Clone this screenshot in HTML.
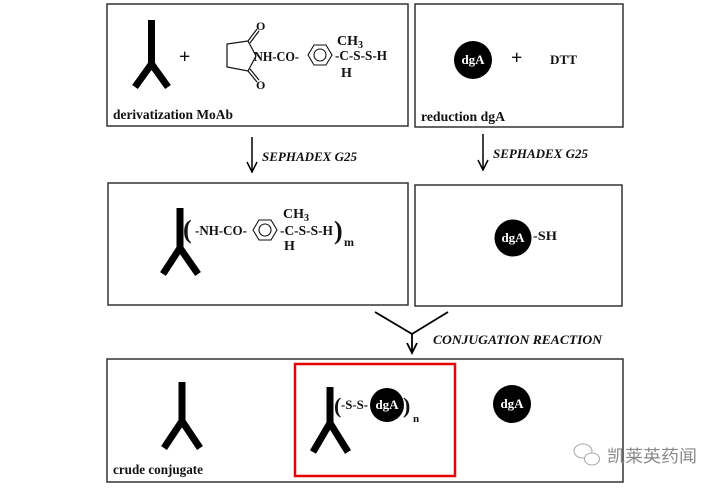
<!DOCTYPE html>
<html>
<head>
<meta charset="utf-8">
<style>
html,body{margin:0;padding:0;background:#fff;}
svg{display:block;}
text{font-family:"Liberation Serif",serif;font-weight:bold;fill:#111;}
.it{font-style:italic;}
.w{fill:#fff;}
.cn{font-family:"Liberation Sans","Noto Sans CJK SC",sans-serif;font-weight:normal;fill:#8a8a8a;}
</style>
</head>
<body>
<svg width="721" height="488" viewBox="0 0 721 488" xmlns="http://www.w3.org/2000/svg">
<g fill="none" stroke="#333" stroke-width="1.5">
  <rect x="107" y="4" width="301" height="122"/>
  <rect x="415" y="4" width="208" height="123"/>
  <rect x="108" y="183" width="300" height="122"/>
  <rect x="415" y="185" width="207" height="121"/>
  <rect x="107" y="359" width="516" height="123"/>
</g>
<rect x="295" y="364" width="160" height="112" fill="none" stroke="#e60000" stroke-width="2.5"/>

<!-- Row 1 left -->
<g stroke="#000" stroke-width="7" fill="none" stroke-linejoin="miter">
  <line x1="151.5" y1="20" x2="151.5" y2="64"/>
  <polyline points="135,87 151.5,64 168,87"/>
</g>
<text x="179" y="63" font-size="20">+</text>
<g stroke="#111" stroke-width="1.2" fill="none">
  <polyline points="248,41 227,44 227,67 248,71 256,56 248,41"/>
  <line x1="248" y1="41" x2="257" y2="29"/>
  <line x1="250" y1="43" x2="259" y2="31"/>
  <line x1="248" y1="71" x2="257" y2="82"/>
  <line x1="250" y1="69" x2="259" y2="80"/>
</g>
<text x="256" y="30" font-size="12">O</text>
<text x="256" y="89" font-size="12">O</text>
<text x="254" y="61" font-size="14" textLength="45" lengthAdjust="spacingAndGlyphs">NH-CO-</text>
<g stroke="#111" stroke-width="1.1" fill="none">
  <polygon points="308,55 314,45 326,45 332,55 326,65 314,65"/>
  <circle cx="320" cy="55" r="6"/>
</g>
<text x="337" y="45" font-size="14">CH<tspan font-size="10" dy="3">3</tspan></text>
<text x="335" y="60" font-size="14" textLength="52" lengthAdjust="spacingAndGlyphs">-C-S-S-H</text>
<text x="341" y="77" font-size="14">H</text>
<text x="113" y="119" font-size="14" textLength="120" lengthAdjust="spacingAndGlyphs">derivatization MoAb</text>

<!-- Row 1 right -->
<circle cx="473" cy="60" r="19" fill="#000"/>
<text class="w" x="473" y="64" font-size="13" text-anchor="middle">dgA</text>
<text x="511" y="64" font-size="20">+</text>
<text x="550" y="64" font-size="13" textLength="27" lengthAdjust="spacingAndGlyphs">DTT</text>
<text x="421" y="121" font-size="14" textLength="84" lengthAdjust="spacingAndGlyphs">reduction dgA</text>

<!-- arrows -->
<g stroke="#000" stroke-width="1.5" fill="none">
  <line x1="252" y1="137" x2="252" y2="172"/>
  <polyline points="247,162 252,172 257,162"/>
  <line x1="483" y1="134" x2="483" y2="170"/>
  <polyline points="478,160 483,170 488,160"/>
</g>
<text class="it" x="262" y="161" font-size="13" textLength="95" lengthAdjust="spacingAndGlyphs">SEPHADEX G25</text>
<text class="it" x="493" y="158" font-size="13" textLength="95" lengthAdjust="spacingAndGlyphs">SEPHADEX G25</text>

<!-- Row 2 left -->
<g stroke="#000" stroke-width="7" fill="none">
  <line x1="180" y1="208" x2="180" y2="248"/>
  <polyline points="163,274 180,248 198,274"/>
</g>
<text x="183" y="238" font-size="26">(</text>
<text x="195" y="235" font-size="14" textLength="52" lengthAdjust="spacingAndGlyphs">-NH-CO-</text>
<g stroke="#111" stroke-width="1.1" fill="none">
  <polygon points="253,230 259,220 271,220 277,230 271,240 259,240"/>
  <circle cx="265" cy="230" r="6"/>
</g>
<text x="283" y="218" font-size="14">CH<tspan font-size="10" dy="3">3</tspan></text>
<text x="280" y="235" font-size="14" textLength="53" lengthAdjust="spacingAndGlyphs">-C-S-S-H</text>
<text x="284" y="250" font-size="14">H</text>
<text x="334" y="239" font-size="26">)</text>
<text x="344" y="246" font-size="12">m</text>

<!-- Row 2 right -->
<circle cx="513" cy="238" r="18.5" fill="#000"/>
<text class="w" x="513" y="242" font-size="13" text-anchor="middle">dgA</text>
<text x="533" y="240" font-size="13" textLength="24" lengthAdjust="spacingAndGlyphs">-SH</text>

<!-- conjugation V arrow -->
<g stroke="#000" stroke-width="1.8" fill="none">
  <polyline points="375,312 412,334 448,312"/>
  <line x1="412" y1="334" x2="412" y2="353"/>
  <polyline points="407,343 412,353 417,343"/>
</g>
<text class="it" x="433" y="344" font-size="13" textLength="169" lengthAdjust="spacingAndGlyphs">CONJUGATION REACTION</text>

<!-- Row 3 -->
<g stroke="#000" stroke-width="7" fill="none">
  <line x1="182" y1="382" x2="182" y2="421"/>
  <polyline points="164,448 182,421 200,448"/>
  <line x1="330" y1="387" x2="330" y2="423"/>
  <polyline points="313,452 330,423 348,452"/>
</g>
<text x="113" y="474" font-size="14" textLength="90" lengthAdjust="spacingAndGlyphs">crude conjugate</text>
<text x="334" y="413" font-size="22">(</text>
<text x="341" y="409" font-size="13" textLength="27" lengthAdjust="spacingAndGlyphs">-S-S-</text>
<circle cx="387" cy="405" r="17" fill="#000"/>
<text class="w" x="387" y="409" font-size="13" text-anchor="middle">dgA</text>
<text x="403" y="413" font-size="22">)</text>
<text x="413" y="422" font-size="11">n</text>

<circle cx="512" cy="404" r="19" fill="#000"/>
<text class="w" x="512" y="408" font-size="13" text-anchor="middle">dgA</text>

<!-- watermark -->
<g fill="#fff" stroke="#aaa" stroke-width="1.1">
  <ellipse cx="583" cy="451" rx="9" ry="7"/>
  <ellipse cx="592" cy="459" rx="7.5" ry="6"/>
</g>
<text class="cn" x="607" y="462" font-size="17" textLength="90" lengthAdjust="spacingAndGlyphs">凯莱英药闻</text>
</svg>
</body>
</html>
